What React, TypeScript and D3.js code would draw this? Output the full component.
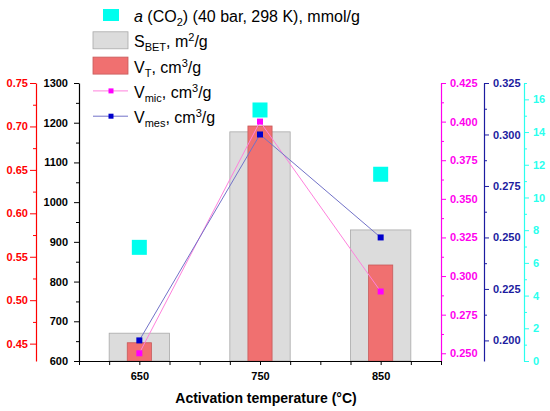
import React, { useEffect, useRef } from "react";
import * as d3 from "d3";

// values
const temps = [650, 750, 850];
const sbet = [670, 1177, 930]; // m2/g, black axis
const vt = [0.451, 0.7005, 0.5405]; // cm3/g, red axis
const vmic = [0.25, 0.4, 0.29]; // cm3/g, pink axis
const vmes = [0.2, 0.3, 0.25]; // cm3/g, blue axis
const aco2 = [6.95, 15.35, 11.42]; // mmol/g, cyan axis

const xTickLabels = [650, 750, 850];

const W = 550;
const H = 411;
const top = 83;
const bottom = 361;
const FONT = "Arial, 'Liberation Sans', sans-serif";

const C = {
  red: "#ff0000",
  pink: "#ff00ee",
  blue: "#1c1ca0",
  cyan: "#2affee",
  gray: "#dcdcdc",
  grayStroke: "#a9a9a9",
  bar: "#f07070",
  barStroke: "#c65a5a",
};

type Seg = { t: string; k?: "sub" | "sup" | "it" };

const App: React.FC = () => {
  const svgRef = useRef<SVGSVGElement | null>(null);

  useEffect(() => {
    const svg = d3.select(svgRef.current);
    svg.selectAll("*").remove();

    const x = d3.scaleLinear().domain([600, 900]).range([79, 441]);
    const yS = d3.scaleLinear().domain([600, 1300]).range([bottom, top]);
    const yT = d3.scaleLinear().domain([0.43, 0.75]).range([bottom, top]);
    const yMic = d3.scaleLinear().domain([0.245, 0.425]).range([bottom, top]);
    const yMes = d3.scaleLinear().domain([0.19, 0.325]).range([bottom, top]);
    const yA = d3.scaleLinear().domain([0, 17]).range([bottom, top]);

    const rows = temps.map((t, i) => ({
      t,
      s: sbet[i],
      v: vt[i],
      mic: vmic[i],
      mes: vmes[i],
      a: aco2[i],
    }));

    // bars
    svg
      .append("g")
      .selectAll("rect")
      .data(rows)
      .join("rect")
      .attr("x", (d) => x(d.t - 25))
      .attr("width", x(650) - x(600))
      .attr("y", (d) => yS(d.s))
      .attr("height", (d) => bottom - yS(d.s))
      .attr("fill", C.gray)
      .attr("stroke", C.grayStroke)
      .attr("stroke-width", 0.8);

    svg
      .append("g")
      .selectAll("rect")
      .data(rows)
      .join("rect")
      .attr("x", (d) => x(d.t - 10))
      .attr("width", x(620) - x(600))
      .attr("y", (d) => yT(d.v))
      .attr("height", (d) => bottom - yT(d.v))
      .attr("fill", C.bar)
      .attr("stroke", C.barStroke)
      .attr("stroke-width", 0.8);

    // axes
    const styleAxis = (g: any, color: string) => {
      g.select(".domain").attr("stroke", color).attr("stroke-width", 1.2);
      g.selectAll(".tick line").attr("stroke", color).attr("stroke-width", 1);
      g.selectAll(".tick text")
        .attr("fill", color)
        .style("font-family", FONT)
        .style("font-size", "11px")
        .style("font-weight", "bold");
    };

    const yAxis = (
      scale: any,
      side: "left" | "right",
      xPos: number,
      major: number[],
      minor: number[],
      fmt: string,
      color: string,
      majLen: number,
      pad: number
    ) => {
      const mk = side === "left" ? d3.axisLeft : d3.axisRight;
      const gMin = svg.append("g").attr("transform", `translate(${xPos},0)`);
      gMin.call(
        mk(scale).tickValues(minor).tickSize(3).tickSizeOuter(0).tickFormat(() => "")
      );
      gMin.select(".domain").remove();
      gMin.selectAll(".tick line").attr("stroke", color);
      const g = svg.append("g").attr("transform", `translate(${xPos},0)`);
      g.call(
        mk(scale)
          .tickValues(major)
          .tickSize(majLen)
          .tickSizeOuter(0)
          .tickPadding(pad)
          .tickFormat(d3.format(fmt) as any)
      );
      styleAxis(g, color);
    };

    yAxis(
      yT,
      "left",
      36,
      d3.range(45, 76, 5).map((v) => v / 100),
      d3.range(475, 726, 50).map((v) => v / 1000),
      ".2f",
      C.red,
      6,
      2
    );
    yAxis(
      yS,
      "left",
      79,
      d3.range(600, 1301, 100),
      d3.range(650, 1300, 100),
      "d",
      "#000",
      5,
      6
    );
    yAxis(
      yMic,
      "right",
      441,
      d3.range(250, 426, 25).map((v) => v / 1000),
      d3.range(2625, 4126, 250).map((v) => v / 10000),
      ".3f",
      C.pink,
      5,
      4
    );
    yAxis(
      yMes,
      "right",
      484,
      d3.range(200, 326, 25).map((v) => v / 1000),
      d3.range(2125, 3126, 250).map((v) => v / 10000),
      ".3f",
      C.blue,
      5,
      4
    );
    yAxis(
      yA,
      "right",
      524,
      d3.range(0, 17, 2),
      d3.range(1, 18, 2),
      "d",
      C.cyan,
      5,
      4
    );

    // x axis
    const gx = svg.append("g").attr("transform", `translate(0,${bottom})`);
    gx.call(
      d3
        .axisBottom(x)
        .tickValues(d3.range(600, 901, 25))
        .tickSize(4)
        .tickSizeOuter(0)
        .tickPadding(7)
        .tickFormat((d: any) => (xTickLabels.includes(d) ? String(d) : ""))
    );
    styleAxis(gx, "#000");

    svg
      .append("text")
      .attr("x", 266)
      .attr("y", 403)
      .attr("text-anchor", "middle")
      .style("font-family", FONT)
      .style("font-size", "14px")
      .style("font-weight", "bold")
      .text("Activation temperature (°C)");

    // lines and markers
    const lineOf = (sc: any, key: "mic" | "mes") =>
      d3
        .line<any>()
        .x((d) => x(d.t))
        .y((d) => sc(d[key]));

    svg
      .append("path")
      .datum(rows)
      .attr("d", lineOf(yMic, "mic"))
      .attr("fill", "none")
      .attr("stroke", "#ff80dc")
      .attr("stroke-width", 1);
    svg
      .append("path")
      .datum(rows)
      .attr("d", lineOf(yMes, "mes"))
      .attr("fill", "none")
      .attr("stroke", "#7272c8")
      .attr("stroke-width", 1);

    const square = (sc: any, key: string, size: number, fill: string) =>
      svg
        .append("g")
        .selectAll("rect")
        .data(rows)
        .join("rect")
        .attr("x", (d: any) => x(d.t) - size / 2)
        .attr("y", (d: any) => sc(d[key]) - size / 2)
        .attr("width", size)
        .attr("height", size)
        .attr("fill", fill);

    square(yMic, "mic", 6, "#ff00ff");
    square(yMes, "mes", 6, "#0000cc");
    square(yA, "a", 15, "#00ffee");

    // legend
    const legend = svg.append("g");
    const rowY = (i: number) => 15 + i * 25.3;

    const label = (i: number, segs: Seg[]) => {
      const t = legend
        .append("text")
        .attr("x", 134)
        .attr("y", rowY(i) + 7)
        .style("font-family", FONT)
        .style("font-size", "16px")
        .attr("fill", "#000");
      let shift = 0;
      segs.forEach((s) => {
        const target = s.k === "sub" ? 4 : s.k === "sup" ? -6 : 0;
        const sp = t.append("tspan").attr("dy", target - shift).text(s.t);
        shift = target;
        if (s.k === "sub" || s.k === "sup") sp.style("font-size", "11px");
        if (s.k === "it") sp.style("font-style", "italic");
      });
    };

    legend
      .append("rect")
      .attr("x", 103)
      .attr("y", rowY(0) - 6)
      .attr("width", 16)
      .attr("height", 12)
      .attr("fill", "#00ffee");
    label(0, [
      { t: "a", k: "it" },
      { t: " (CO" },
      { t: "2", k: "sub" },
      { t: ") (40 bar, 298 K), mmol/g" },
    ]);

    legend
      .append("rect")
      .attr("x", 93)
      .attr("y", rowY(1) - 8.5)
      .attr("width", 35)
      .attr("height", 17)
      .attr("fill", C.gray)
      .attr("stroke", C.grayStroke)
      .attr("stroke-width", 0.8);
    label(1, [{ t: "S" }, { t: "BET", k: "sub" }, { t: ", m" }, { t: "2", k: "sup" }, { t: "/g" }]);

    legend
      .append("rect")
      .attr("x", 93)
      .attr("y", rowY(2) - 8.5)
      .attr("width", 35)
      .attr("height", 17)
      .attr("fill", C.bar)
      .attr("stroke", C.barStroke)
      .attr("stroke-width", 0.8);
    label(2, [{ t: "V" }, { t: "T", k: "sub" }, { t: ", cm" }, { t: "3", k: "sup" }, { t: "/g" }]);

    const lineKey = (i: number, stroke: string, fill: string) => {
      legend
        .append("line")
        .attr("x1", 93)
        .attr("x2", 128)
        .attr("y1", rowY(i))
        .attr("y2", rowY(i))
        .attr("stroke", stroke)
        .attr("stroke-width", 1);
      legend
        .append("rect")
        .attr("x", 111 - 2.5)
        .attr("y", rowY(i) - 2.5)
        .attr("width", 5)
        .attr("height", 5)
        .attr("fill", fill);
    };
    lineKey(3, "#ff80dc", "#ff00ff");
    label(3, [{ t: "V" }, { t: "mic", k: "sub" }, { t: ", cm" }, { t: "3", k: "sup" }, { t: "/g" }]);
    lineKey(4, "#7272c8", "#0000cc");
    label(4, [{ t: "V" }, { t: "mes", k: "sub" }, { t: ", cm" }, { t: "3", k: "sup" }, { t: "/g" }]);
  }, []);

  return (
    <div style={{ position: "absolute", left: 0, top: 0, background: "#fff" }}>
      <svg ref={svgRef} width={W} height={H} style={{ display: "block" }} />
    </div>
  );
};

export default App;
